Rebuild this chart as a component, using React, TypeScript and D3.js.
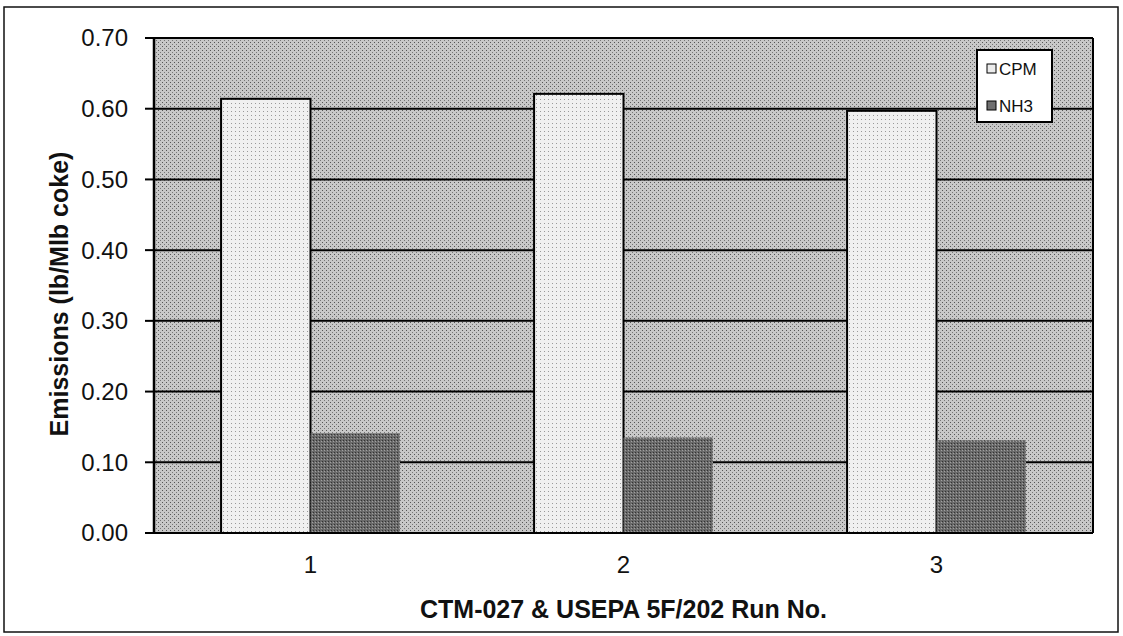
import React from 'react';
import * as d3 from 'd3';

const runs = ['1', '2', '3'];
const seriesNames = ['CPM', 'NH3'];
const cpmValues = [0.614, 0.621, 0.597];
const nh3Values = [0.141, 0.135, 0.131];
const yTicks = [0, 0.1, 0.2, 0.3, 0.4, 0.5, 0.6, 0.7];

const width = 1123;
const height = 636;
const margin = { top: 38, right: 30, bottom: 103, left: 154 };
const colors: Record<string, string> = { CPM: '#ececec', NH3: '#6f6f6f' };

const App: React.FC = () => {
    const innerWidth = width - margin.left - margin.right;
    const innerHeight = height - margin.top - margin.bottom;

    const xScale = d3.scaleBand<string>()
        .domain(runs)
        .range([0, innerWidth])
        .paddingInner(0)
        .paddingOuter(0);

    const sub = d3.scaleBand<string>()
        .domain(seriesNames)
        .range([0, xScale.bandwidth()])
        .paddingInner(0)
        .paddingOuter(0.75);

    const yScale = d3.scaleLinear()
        .domain([0, 0.7])
        .range([innerHeight, 0]);

    const values: Record<string, number[]> = { CPM: cpmValues, NH3: nh3Values };
    const font = '"Liberation Sans", Arial, sans-serif';

    return (
        <svg width={width} height={height} style={{ position: 'absolute', left: 0, top: 0 }}>
            <defs>
                <pattern id="bgDots" width="4" height="4" patternUnits="userSpaceOnUse">
                    <rect width="4" height="4" fill="#c8c8c8" />
                    <rect x="0" y="0" width="1" height="1" fill="#555" />
                    <rect x="2" y="2" width="1" height="1" fill="#777" />
                </pattern>
                <pattern id="lightDots" width="4" height="4" patternUnits="userSpaceOnUse">
                    <rect width="4" height="4" fill="#f0f0f0" />
                    <rect x="1" y="1" width="1" height="1" fill="#999" />
                </pattern>
                <pattern id="darkDots" width="3" height="3" patternUnits="userSpaceOnUse">
                    <rect width="3" height="3" fill="#6a6a6a" />
                    <rect x="0" y="0" width="1" height="1" fill="#333" />
                    <rect x="2" y="1" width="1" height="1" fill="#a0a0a0" />
                </pattern>
            </defs>
            <rect x={0} y={0} width={width} height={height} fill="#fff" />
            <rect x={4} y={7} width={1114} height={625} fill="none" stroke="#111" strokeWidth={1.5} />

            <g transform={`translate(${margin.left},${margin.top})`}>
                <rect x={0} y={0} width={innerWidth} height={innerHeight} fill="url(#bgDots)" />

                {yTicks.slice(1).map(t => (
                    <line key={t} x1={0} x2={innerWidth} y1={yScale(t)} y2={yScale(t)} stroke="#000" strokeWidth={2} />
                ))}

                {runs.map((r, i) => (
                    <g key={r} transform={`translate(${xScale(r)},0)`}>
                        {seriesNames.map(s => (
                            <rect
                                key={s}
                                x={sub(s)}
                                y={yScale(values[s][i])}
                                width={sub.bandwidth()}
                                height={innerHeight - yScale(values[s][i])}
                                fill={s === 'CPM' ? 'url(#lightDots)' : 'url(#darkDots)'}
                                stroke={s === 'CPM' ? '#000' : 'none'}
                                strokeWidth={2}
                            />
                        ))}
                    </g>
                ))}

                <line x1={0} x2={0} y1={0} y2={innerHeight} stroke="#000" strokeWidth={2.5} />
                <line x1={innerWidth} x2={innerWidth} y1={0} y2={innerHeight} stroke="#000" strokeWidth={2} />
                <line x1={0} x2={innerWidth} y1={innerHeight} y2={innerHeight} stroke="#000" strokeWidth={2} />

                {yTicks.map(t => (
                    <g key={t}>
                        <line x1={-9} x2={0} y1={yScale(t)} y2={yScale(t)} stroke="#000" strokeWidth={2} />
                        <text x={-26} y={yScale(t)} dy="0.35em" textAnchor="end" fontFamily={font} fontSize={24} fill="#111">
                            {d3.format('.2f')(t)}
                        </text>
                    </g>
                ))}

                {runs.map(r => (
                    <text key={r} x={(xScale(r) ?? 0) + xScale.bandwidth() / 2} y={innerHeight + 40} textAnchor="middle" fontFamily={font} fontSize={24} fill="#111">
                        {r}
                    </text>
                ))}

                <g transform={`translate(${innerWidth - 116},12)`}>
                    <rect x={0} y={0} width={75} height={72} fill="#fff" stroke="#000" strokeWidth={2} />
                    {seriesNames.map((s, i) => (
                        <g key={s} transform={`translate(10,${19 + i * 37})`}>
                            <rect x={0} y={-5} width={9} height={9} fill={colors[s]} stroke="#000" strokeWidth={1} />
                            <text x={12} y={0} dy="0.35em" fontFamily={font} fontSize={17} fill="#111">{s}</text>
                        </g>
                    ))}
                </g>
            </g>

            <text
                transform={`translate(68,294) rotate(-90)`}
                textAnchor="middle"
                fontFamily={font}
                fontSize={25}
                fontWeight="bold"
                fill="#111"
            >
                Emissions  (lb/Mlb coke)
            </text>
            <text x={margin.left + innerWidth / 2} y={618} textAnchor="middle" fontFamily={font} fontSize={25} fontWeight="bold" fill="#111">
                CTM-027 &amp; USEPA 5F/202 Run No.
            </text>
        </svg>
    );
};

export default App;
